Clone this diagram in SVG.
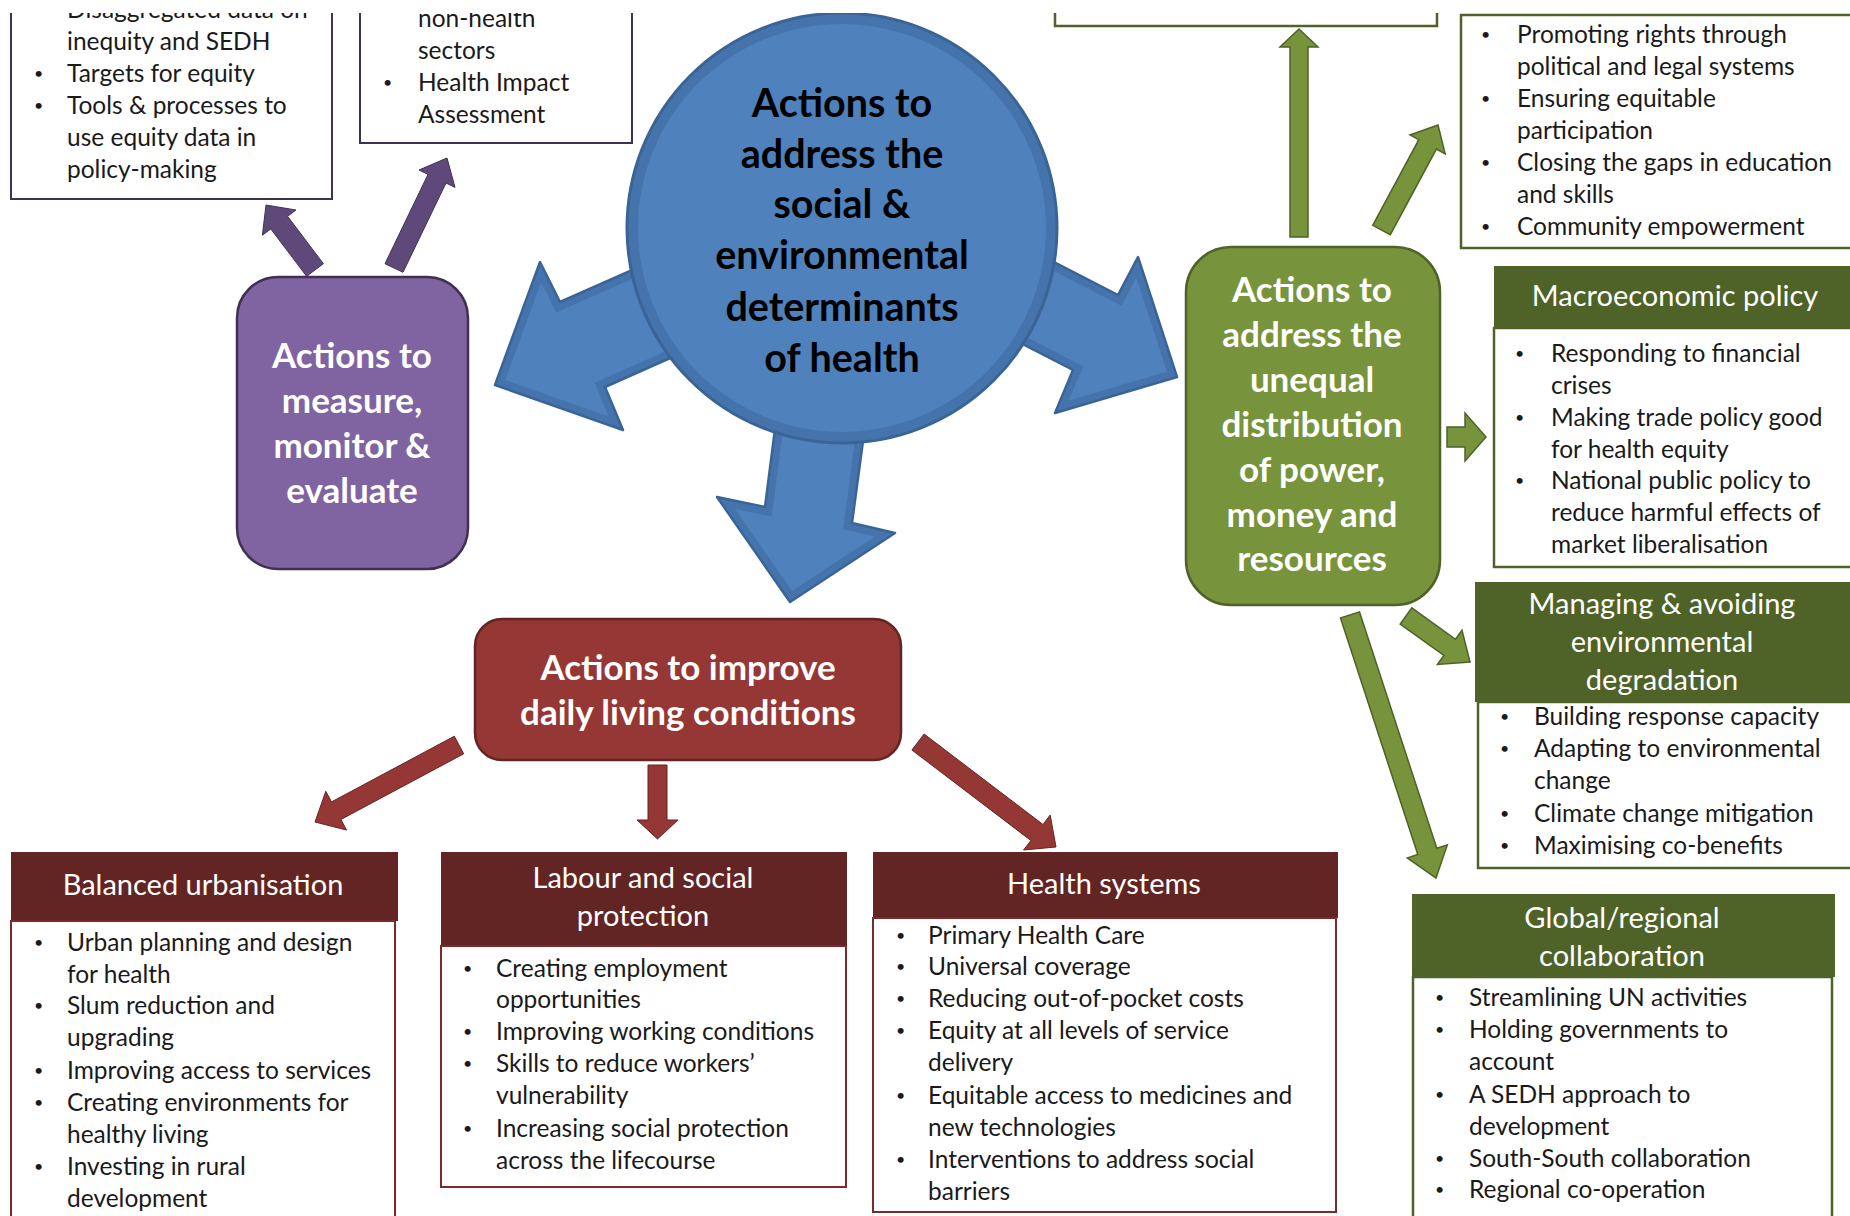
<svg xmlns="http://www.w3.org/2000/svg" width="1850" height="1216" viewBox="0 0 1850 1216">
<style>
text{font-family:Lato,"Open Sans","Liberation Sans",sans-serif}
.b{font-size:24.5px;fill:#1a1a1a}
.d{font-size:16px;fill:#1a1a1a}
.h{font-size:29px;fill:#fff;text-anchor:middle}
.t{font-size:35px;font-weight:bold;fill:#fff;text-anchor:middle}
.c{font-size:39.5px;font-weight:bold;fill:#000;text-anchor:middle}
.pbox{fill:#fff;stroke:#3f3151;stroke-width:2}
.gbox{fill:#fff;stroke:#4f6228;stroke-width:2.5}
.rbox{fill:#fff;stroke:#7a2a28;stroke-width:2}
.ghdr{fill:#4f6228}
.rhdr{fill:#632523}
.bfill{fill:#4f81bd}
.bband{fill:none;stroke:#4574ad;stroke-width:16}
.bline{fill:none;stroke:#3a6496;stroke-width:2.5;stroke-linejoin:round}
.pa{fill:#5f497a;stroke:#3f3151;stroke-width:1}
.ga{fill:#77933c;stroke:#4f6228;stroke-width:1.5}
.ra{fill:#953735;stroke:#632523;stroke-width:1}
</style>
<defs>
<polygon id="bl" points="700,240 560,302 540,262 495,385 623,430 605,387 742,326"/>
<polygon id="br" points="976,222 1118,295 1138,257 1177,377 1055,413 1073,370 931,297"/>
<polygon id="bd" points="785,351 765,507 717,497 790,602 895,533 852,523 872,374"/>
<clipPath id="cbl"><use href="#bl"/></clipPath>
<clipPath id="cbr"><use href="#br"/></clipPath>
<clipPath id="cbd"><use href="#bd"/></clipPath>
</defs>
<rect width="1850" height="1216" fill="#fff"/>
<g id="connectors">
<g id="blue-left"><use href="#bl" class="bfill"/><use href="#bl" class="bband" clip-path="url(#cbl)"/><use href="#bl" class="bline"/></g>
<g id="blue-right"><use href="#br" class="bfill"/><use href="#br" class="bband" clip-path="url(#cbr)"/><use href="#br" class="bline"/></g>
<g id="blue-down"><use href="#bd" class="bfill"/><use href="#bd" class="bband" clip-path="url(#cbd)"/><use href="#bd" class="bline"/></g>
<polygon class="pa" points="323.4,263.7 287.6,216.3 296,210 266,205 262.4,235.2 270.8,228.9 306.6,276.3"/>
<polygon class="pa" points="403,272.3 446,183 455,187.4 447,158 419,170 428,174.4 385,263.7"/>
<polygon class="ga" points="1290,237 1290,47 1280,47 1299,29 1318,47 1308,47 1308,237"/>
<polygon class="ga" points="1372.7,225.3 1418.8,139.7 1410,135 1438,125 1445.2,153.9 1436.4,149.1 1390.3,234.7"/>
<polygon class="ga" points="1447,427 1465,427 1465,413 1486,437 1465,461 1465,447 1447,447"/>
<polygon class="ga" points="1400.2,624.1 1443.9,655.5 1437.4,664.5 1470,662 1462,630.3 1455.5,639.3 1411.8,607.9"/>
<polygon class="ga" points="1340.5,618.1 1417.8,854.5 1407.3,857.9 1436,878 1447.3,844.9 1436.8,848.3 1359.5,611.9"/>
<polygon class="ra" points="463.7,753.8 340.9,819.5 346.6,830.1 315,822 325.8,791.3 331.5,801.9 454.3,736.2"/>
<polygon class="ra" points="648,765 667,765 667,820 678,820 657.5,839 637,820 648,820"/>
<polygon class="ra" points="911.9,750 1030.9,840.5 1023.6,850 1056,847 1050.2,815 1043,824.5 924.1,734"/>
</g>
<g id="social-determinants">
<circle cx="842" cy="228" r="215" fill="#4574ad" stroke="#3a6496" stroke-width="3"/>
<circle cx="842" cy="228" r="204" fill="#4f81bd"/>
<text class="c" x="842" y="117">Actions to</text>
<text class="c" x="842" y="168">address the</text>
<text class="c" x="842" y="218">social &amp;</text>
<text class="c" x="842" y="269">environmental</text>
<text class="c" x="842" y="321">determinants</text>
<text class="c" x="842" y="372">of health</text>
</g>
<g id="measure-monitor">
<rect x="237" y="277" width="231" height="292" rx="41" fill="#8064a2" stroke="#3f3151" stroke-width="2.5"/>
<text class="t" x="352" y="368">Actions to</text>
<text class="t" x="352" y="413">measure,</text>
<text class="t" x="352" y="458">monitor &amp;</text>
<text class="t" x="352" y="503">evaluate</text>
</g>
<g id="equity-data">
<rect class="pbox" x="11" y="-10" width="321" height="209"/>
<text class="b" x="67" y="18">Disaggregated data on</text>
<text class="b" x="67" y="50">inequity and SEDH</text>
<text class="d" x="34" y="79">•</text><text class="b" x="67" y="82">Targets for equity</text>
<text class="d" x="34" y="111">•</text><text class="b" x="67" y="114">Tools &amp; processes to</text>
<text class="b" x="67" y="146">use equity data in</text>
<text class="b" x="67" y="178">policy-making</text>
</g>
<g id="intersectoral">
<rect class="pbox" x="360" y="-10" width="272" height="153"/>
<text class="b" x="418" y="27">non-health</text>
<text class="b" x="418" y="59">sectors</text>
<text class="d" x="383" y="88">•</text><text class="b" x="418" y="91">Health Impact</text>
<text class="b" x="418" y="123">Assessment</text>
</g>
<g id="power-money">
<rect x="1186" y="247" width="254" height="358" rx="45" fill="#77933c" stroke="#4f6228" stroke-width="2.5"/>
<text class="t" x="1312" y="302">Actions to</text>
<text class="t" x="1312" y="347">address the</text>
<text class="t" x="1312" y="392">unequal</text>
<text class="t" x="1312" y="437">distribution</text>
<text class="t" x="1312" y="482">of power,</text>
<text class="t" x="1312" y="527">money and</text>
<text class="t" x="1312" y="571">resources</text>
</g>
<g id="top-green-box">
<rect class="gbox" x="1055" y="-10" width="382" height="36"/>
</g>
<g id="political-empowerment">
<rect class="gbox" x="1461" y="15" width="400" height="233"/>
<text class="d" x="1481" y="40">•</text><text class="b" x="1517" y="43">Promoting rights through</text>
<text class="b" x="1517" y="75">political and legal systems</text>
<text class="d" x="1481" y="104">•</text><text class="b" x="1517" y="107">Ensuring equitable</text>
<text class="b" x="1517" y="139">participation</text>
<text class="d" x="1481" y="168">•</text><text class="b" x="1517" y="171">Closing the gaps in education</text>
<text class="b" x="1517" y="203">and skills</text>
<text class="d" x="1481" y="232">•</text><text class="b" x="1517" y="235">Community empowerment</text>
</g>
<g id="macroeconomic">
<rect class="ghdr" x="1494" y="266" width="370" height="62"/>
<text class="h" x="1675" y="306">Macroeconomic policy</text>
<rect class="gbox" x="1494" y="328" width="370" height="239"/>
<text class="d" x="1515" y="359">•</text><text class="b" x="1551" y="362">Responding to financial</text>
<text class="b" x="1551" y="394">crises</text>
<text class="d" x="1515" y="423">•</text><text class="b" x="1551" y="426">Making trade policy good</text>
<text class="b" x="1551" y="458">for health equity</text>
<text class="d" x="1515" y="486">•</text><text class="b" x="1551" y="489">National public policy to</text>
<text class="b" x="1551" y="521">reduce harmful effects of</text>
<text class="b" x="1551" y="553">market liberalisation</text>
</g>
<g id="environment">
<rect class="ghdr" x="1475" y="582" width="390" height="120"/>
<text class="h" x="1662" y="614">Managing &amp; avoiding</text>
<text class="h" x="1662" y="652">environmental</text>
<text class="h" x="1662" y="690">degradation</text>
<rect class="gbox" x="1478" y="702" width="390" height="166"/>
<text class="d" x="1500" y="722">•</text><text class="b" x="1534" y="725">Building response capacity</text>
<text class="d" x="1500" y="754">•</text><text class="b" x="1534" y="757">Adapting to environmental</text>
<text class="b" x="1534" y="789">change</text>
<text class="d" x="1500" y="819">•</text><text class="b" x="1534" y="822">Climate change mitigation</text>
<text class="d" x="1500" y="851">•</text><text class="b" x="1534" y="854">Maximising co-benefits</text>
</g>
<g id="global-regional">
<rect class="ghdr" x="1412" y="894" width="423" height="83"/>
<text class="h" x="1622" y="928">Global/regional</text>
<text class="h" x="1622" y="966">collaboration</text>
<rect class="gbox" x="1413" y="977" width="419" height="260"/>
<text class="d" x="1435" y="1003">•</text><text class="b" x="1469" y="1006">Streamlining UN activities</text>
<text class="d" x="1435" y="1035">•</text><text class="b" x="1469" y="1038">Holding governments to</text>
<text class="b" x="1469" y="1070">account</text>
<text class="d" x="1435" y="1100">•</text><text class="b" x="1469" y="1103">A SEDH approach to</text>
<text class="b" x="1469" y="1135">development</text>
<text class="d" x="1435" y="1164">•</text><text class="b" x="1469" y="1167">South-South collaboration</text>
<text class="d" x="1435" y="1195">•</text><text class="b" x="1469" y="1198">Regional co-operation</text>
</g>
<g id="daily-living">
<rect x="475" y="619" width="426" height="141" rx="27" fill="#953735" stroke="#632523" stroke-width="2.5"/>
<text class="t" x="688" y="680">Actions to improve</text>
<text class="t" x="688" y="725">daily living conditions</text>
</g>
<g id="urbanisation">
<rect class="rhdr" x="11" y="852" width="387" height="69"/>
<text class="h" x="203" y="895">Balanced urbanisation</text>
<rect class="rbox" x="11" y="921" width="384" height="310"/>
<text class="d" x="34" y="948">•</text><text class="b" x="67" y="951">Urban planning and design</text>
<text class="b" x="67" y="983">for health</text>
<text class="d" x="34" y="1011">•</text><text class="b" x="67" y="1014">Slum reduction and</text>
<text class="b" x="67" y="1046">upgrading</text>
<text class="d" x="34" y="1076">•</text><text class="b" x="67" y="1079">Improving access to services</text>
<text class="d" x="34" y="1108">•</text><text class="b" x="67" y="1111">Creating environments for</text>
<text class="b" x="67" y="1143">healthy living</text>
<text class="d" x="34" y="1172">•</text><text class="b" x="67" y="1175">Investing in rural</text>
<text class="b" x="67" y="1207">development</text>
</g>
<g id="labour">
<rect class="rhdr" x="441" y="852" width="406" height="94"/>
<text class="h" x="643" y="888">Labour and social</text>
<text class="h" x="643" y="926">protection</text>
<rect class="rbox" x="441" y="946" width="405" height="241"/>
<text class="d" x="463" y="974">•</text><text class="b" x="496" y="977">Creating employment</text>
<text class="b" x="496" y="1008">opportunities</text>
<text class="d" x="463" y="1037">•</text><text class="b" x="496" y="1040">Improving working conditions</text>
<text class="d" x="463" y="1069">•</text><text class="b" x="496" y="1072">Skills to reduce workers’</text>
<text class="b" x="496" y="1104">vulnerability</text>
<text class="d" x="463" y="1134">•</text><text class="b" x="496" y="1137">Increasing social protection</text>
<text class="b" x="496" y="1169">across the lifecourse</text>
</g>
<g id="health-systems">
<rect class="rhdr" x="873" y="852" width="465" height="66"/>
<text class="h" x="1104" y="894">Health systems</text>
<rect class="rbox" x="873" y="918" width="463" height="294"/>
<text class="d" x="896" y="941">•</text><text class="b" x="928" y="944">Primary Health Care</text>
<text class="d" x="896" y="972">•</text><text class="b" x="928" y="975">Universal coverage</text>
<text class="d" x="896" y="1004">•</text><text class="b" x="928" y="1007">Reducing out-of-pocket costs</text>
<text class="d" x="896" y="1036">•</text><text class="b" x="928" y="1039">Equity at all levels of service</text>
<text class="b" x="928" y="1071">delivery</text>
<text class="d" x="896" y="1101">•</text><text class="b" x="928" y="1104">Equitable access to medicines and</text>
<text class="b" x="928" y="1136">new technologies</text>
<text class="d" x="896" y="1165">•</text><text class="b" x="928" y="1168">Interventions to address social</text>
<text class="b" x="928" y="1200">barriers</text>
</g>
<rect x="0" y="0" width="1850" height="13" fill="#fff"/>
</svg>
